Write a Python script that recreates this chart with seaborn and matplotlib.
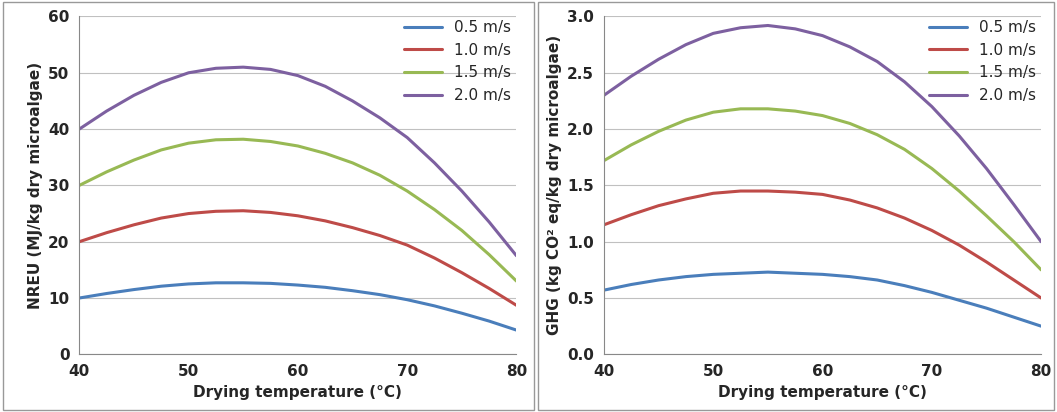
import matplotlib
matplotlib.use("Agg")
import matplotlib.pyplot as plt
import seaborn as sns
import pandas as pd
from matplotlib.patches import Rectangle

temps = [40, 42.5, 45, 47.5, 50, 52.5, 55, 57.5, 60, 62.5, 65, 67.5, 70, 72.5, 75, 77.5, 80]
speeds = ["0.5 m/s", "1.0 m/s", "1.5 m/s", "2.0 m/s"]
colors = ["#4a7ebb", "#be4b48", "#98b954", "#7d60a0"]

nreu_05 = [10, 10.8, 11.5, 12.1, 12.5, 12.7, 12.7, 12.6, 12.3, 11.9, 11.3, 10.6, 9.7, 8.6, 7.3, 5.9, 4.3]
nreu_10 = [20, 21.6, 23, 24.2, 25, 25.4, 25.5, 25.2, 24.6, 23.7, 22.5, 21.1, 19.4, 17.1, 14.5, 11.7, 8.7]
nreu_15 = [30, 32.4, 34.5, 36.3, 37.5, 38.1, 38.2, 37.8, 37, 35.7, 34, 31.8, 29, 25.7, 22, 17.7, 13]
nreu_20 = [40, 43.2, 46, 48.3, 50, 50.8, 51, 50.6, 49.5, 47.6, 45, 42, 38.5, 34, 29, 23.5, 17.5]

ghg_05 = [0.57, 0.62, 0.66, 0.69, 0.71, 0.72, 0.73, 0.72, 0.71, 0.69, 0.66, 0.61, 0.55, 0.48, 0.41, 0.33, 0.25]
ghg_10 = [1.15, 1.24, 1.32, 1.38, 1.43, 1.45, 1.45, 1.44, 1.42, 1.37, 1.30, 1.21, 1.10, 0.97, 0.82, 0.66, 0.50]
ghg_15 = [1.72, 1.86, 1.98, 2.08, 2.15, 2.18, 2.18, 2.16, 2.12, 2.05, 1.95, 1.82, 1.65, 1.45, 1.23, 1.00, 0.75]
ghg_20 = [2.30, 2.47, 2.62, 2.75, 2.85, 2.90, 2.92, 2.89, 2.83, 2.73, 2.60, 2.42, 2.20, 1.94, 1.65, 1.33, 1.00]


def long_df(series):
    rows = []
    for name, vals in zip(speeds, series):
        for t, v in zip(temps, vals):
            rows.append({"temp": t, "value": v, "speed": name})
    return pd.DataFrame(rows)


sns.set_style("white")
plt.rcParams["font.family"] = ["DejaVu Sans"]
fig, axes = plt.subplots(1, 2, figsize=(10.57, 4.12), dpi=100)
fig.subplots_adjust(left=0.075, right=0.985, bottom=0.14, top=0.96, wspace=0.2)

panels = [
    (axes[0], long_df([nreu_05, nreu_10, nreu_15, nreu_20]), (0, 60), range(0, 61, 10),
     "NREU (MJ/kg dry microalgae)", lambda v: f"{v:.0f}"),
    (axes[1], long_df([ghg_05, ghg_10, ghg_15, ghg_20]), (0, 3), [i * 0.5 for i in range(7)],
     "GHG (kg CO² eq/kg dry microalgae)", lambda v: f"{v:.1f}"),
]
for ax, df, ylim, yt, ylabel, fmt in panels:
    sns.lineplot(data=df, x="temp", y="value", hue="speed", palette=colors, ax=ax, linewidth=2.2)
    ax.set_xlim(40, 80)
    ax.set_ylim(*ylim)
    ax.set_xticks([40, 50, 60, 70, 80])
    ax.set_yticks(list(yt))
    ax.set_yticklabels([fmt(v) for v in yt])
    ax.grid(axis="y", color="#c0c0c0", linewidth=0.8)
    for s in ["top", "right"]:
        ax.spines[s].set_visible(False)
    for s in ["left", "bottom"]:
        ax.spines[s].set_color("#888888")
    ax.tick_params(labelsize=11)
    for lbl in ax.get_xticklabels() + ax.get_yticklabels():
        lbl.set_fontweight("bold")
    ax.set_xlabel("Drying temperature (°C)", fontsize=11, fontweight="bold")
    ax.set_ylabel(ylabel, fontsize=11, fontweight="bold")
    ax.legend(title=None, frameon=False, loc="upper right", fontsize=11,
              bbox_to_anchor=(1.02, 1.03), handlelength=2.5)

fig.add_artist(Rectangle((0.003, 0.005), 0.502, 0.99, transform=fig.transFigure,
                         fill=False, edgecolor="#999999", linewidth=1))
fig.add_artist(Rectangle((0.509, 0.005), 0.488, 0.99, transform=fig.transFigure,
                         fill=False, edgecolor="#999999", linewidth=1))

fig.savefig("out.png", dpi=100)
